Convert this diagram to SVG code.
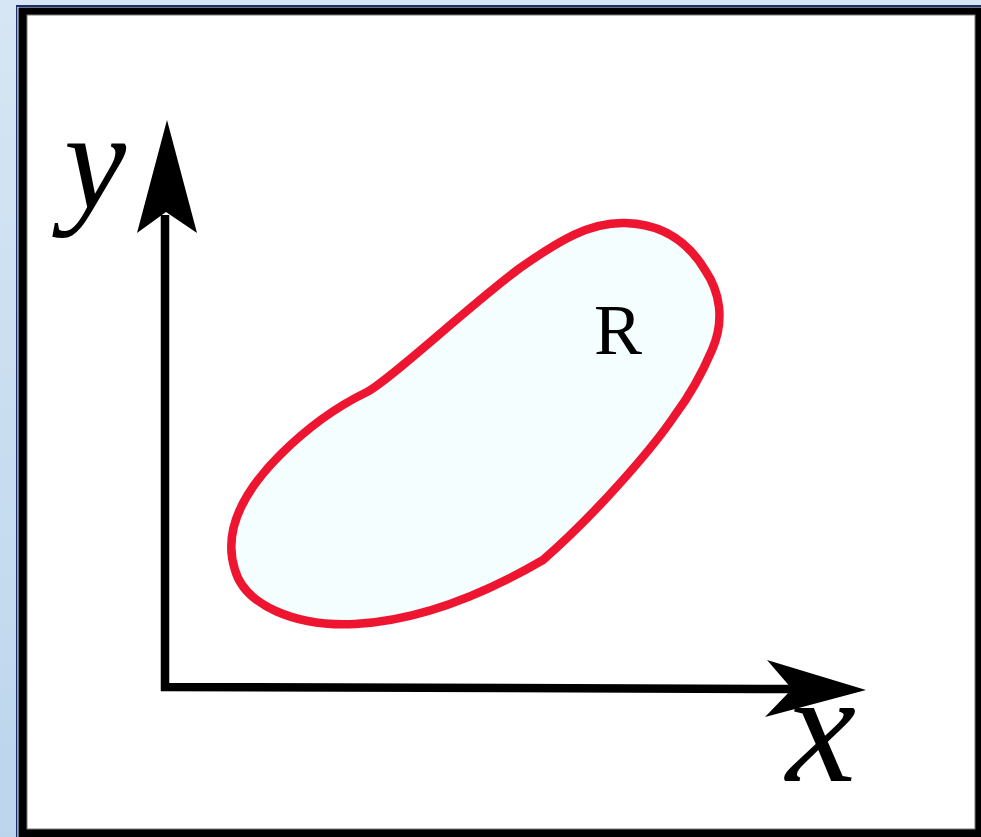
<svg xmlns="http://www.w3.org/2000/svg" width="981" height="837" viewBox="0 0 981 837">
  <defs>
    <linearGradient id="bg" x1="0" y1="0" x2="0" y2="1">
      <stop offset="0" stop-color="#d6e6f4"/>
      <stop offset="1" stop-color="#bcd5ed"/>
    </linearGradient>
    <style>
      .axis { fill: none; stroke: #000; stroke-width: 8.5; stroke-linejoin: miter; }
      .head { fill: #000; stroke: none; }
      .math { font-family: "Liberation Serif", "DejaVu Serif", serif; font-style: italic; fill: #000; }
      .lbl { font-family: "Liberation Serif", "DejaVu Serif", serif; fill: #000; }
    </style>
  </defs>
  <g id="background">
    <rect x="0" y="0" width="981" height="837" fill="url(#bg)"/>
    <rect x="16" y="5" width="965" height="2" fill="#1a2f6e"/>
    <rect x="16" y="5" width="1.6" height="832" fill="#1a2f6e"/>
    <rect x="17.6" y="7" width="963.4" height="0.8" fill="#e8f0f8"/>
    <rect x="17.6" y="7" width="0.9" height="830" fill="#e8f0f8"/>
    <rect x="18.5" y="7.5" width="962.5" height="829.5" fill="#000"/>
    <rect x="27" y="15" width="948" height="814" fill="#fff" stroke="#7a7a7a" stroke-width="1"/>
  </g>
  <g id="region-R">
    <path d="M 367 392 C 390 380, 470 305, 520 268 C 560 240, 590 222, 625 223 C 665 224, 690 245, 705 270 C 720 292, 725 320, 712 350 C 700 378, 690 395, 675 415 C 655 445, 600 510, 543 560 C 500 585, 430 620, 355 624 C 295 627, 245 605, 235 570 C 222 530, 245 490, 280 455 C 310 425, 340 405, 367 392 Z" fill="#f5fefe" stroke="#ee1530" stroke-width="8.5" stroke-linejoin="round"/>
    <text class="lbl" x="594" y="354" font-size="72">R</text>
  </g>
  <g id="connectors">
    <path class="axis" d="M 165 215 L 165 687 L 795 689"/>
    <path class="head" d="M 167 120 L 197 233 L 166 212 L 137 233 Z"/>
    <path class="head" d="M 866 690 L 767 660 L 792 689 L 765 717 Z"/>
  </g>
  <g id="label-y">
    <text class="math" x="64" y="208" font-size="140">y</text>
  </g>
  <g id="label-x">
    <text class="math" x="786" y="781" font-size="158">x</text>
  </g>
</svg>
